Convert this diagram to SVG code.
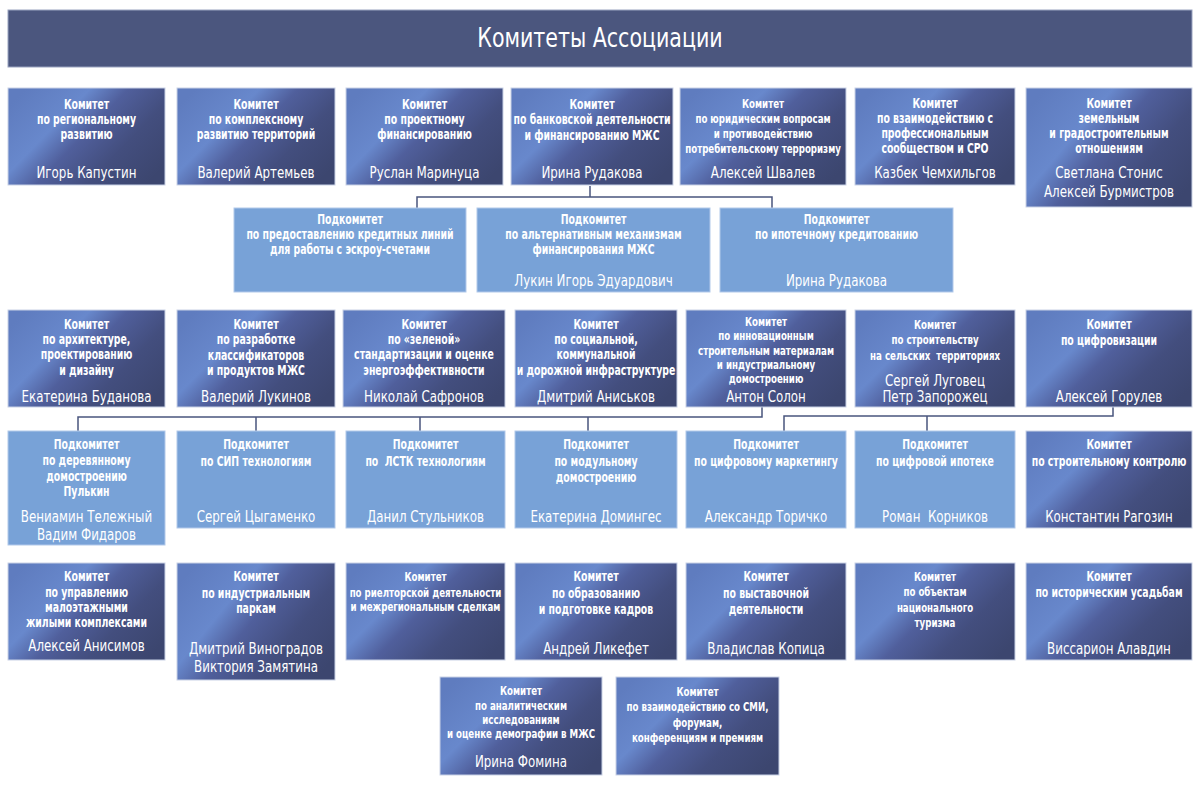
<svg xmlns="http://www.w3.org/2000/svg" width="1200" height="786" viewBox="0 0 1200 786">
<defs>
<linearGradient id="g" x1="0" y1="0.2" x2="1" y2="0.8">
<stop offset="0" stop-color="#5f7cbf"/>
<stop offset="0.3" stop-color="#6888cc"/>
<stop offset="0.48" stop-color="#505f9c"/>
<stop offset="0.72" stop-color="#434e7e"/>
<stop offset="1" stop-color="#3c466f"/>
</linearGradient>
<style>
.c{fill:url(#g);stroke:#c9d2e6;stroke-width:1}
.s{fill:#78a2d7;stroke:#b2c9ea;stroke-width:1}
text{fill:#fff;text-anchor:middle;white-space:pre;font-family:"Liberation Sans Narrow","DejaVu Sans Condensed","Liberation Sans",sans-serif;transform-box:fill-box;transform-origin:center;transform:scaleX(0.88)}
.t{font-size:13.5px;font-weight:bold;transform:scaleX(0.77)}
.m{font-size:12.5px;font-weight:bold;transform:scaleX(0.77)}
.n{font-size:15px}
.h{font-size:26px}
.ln{fill:none;stroke:#4a557e;stroke-width:1.5}
</style>
</defs>
<rect width="1200" height="786" fill="#fff"/>
<g id="header">
<rect x="8" y="10" width="1184" height="57" fill="#4b567e" stroke="#9aa3c0" stroke-width="1"/>
<text class="h" x="600" y="47">Комитеты Ассоциации</text>
</g>
<g id="connectors">
<path class="ln" d="M590 186 V197 M417 208 V197 H772 V208"/>
<path class="ln" d="M762 407 V417 H78 V431 M256 417 V431 M420 417 V431 M588 417 V431"/>
<path class="ln" d="M1113 407 V416 H784 V431 M927 416 V431"/>
</g>
<!-- Row 1 -->
<g id="k1"><rect class="c" x="8" y="88" width="157" height="97"/>
<text class="t" x="86.5" y="109">Комитет</text><text class="t" x="86.5" y="124">по региональному</text><text class="t" x="86.5" y="139">развитию</text>
<text class="n" x="86.5" y="178">Игорь Капустин</text></g>
<g id="k2"><rect class="c" x="177" y="88" width="158" height="97"/>
<text class="t" x="256" y="109">Комитет</text><text class="t" x="256" y="124">по комплексному</text><text class="t" x="256" y="139">развитию территорий</text>
<text class="n" x="256" y="178">Валерий Артемьев</text></g>
<g id="k3"><rect class="c" x="346" y="88" width="157" height="97"/>
<text class="t" x="424.5" y="109">Комитет</text><text class="t" x="424.5" y="124">по проектному</text><text class="t" x="424.5" y="139">финансированию</text>
<text class="n" x="424.5" y="178">Руслан Маринуца</text></g>
<g id="k4"><rect class="c" x="511" y="88" width="162" height="97"/>
<text class="t" x="592" y="109">Комитет</text><text class="t" x="592" y="124">по банковской деятельности</text><text class="t" x="592" y="140">и финансированию МЖС</text>
<text class="n" x="592" y="178">Ирина Рудакова</text></g>
<g id="k5"><rect class="c" x="680" y="88" width="166" height="97"/>
<text class="m" x="763" y="108">Комитет</text><text class="m" x="763" y="123">по юридическим вопросам</text><text class="m" x="763" y="138">и противодействию</text><text class="m" x="763" y="153">потребительскому терроризму</text>
<text class="n" x="763" y="178">Алексей Швалев</text></g>
<g id="k6"><rect class="c" x="855" y="88" width="160" height="97"/>
<text class="t" x="935" y="108">Комитет</text><text class="t" x="935" y="123">по взаимодействию с</text><text class="t" x="935" y="138">профессиональным</text><text class="t" x="935" y="153">сообществом и СРО</text>
<text class="n" x="935" y="178">Казбек Чемхильгов</text></g>
<g id="k7"><rect class="c" x="1026" y="88" width="166" height="119"/>
<text class="t" x="1109" y="108">Комитет</text><text class="t" x="1109" y="123">земельным</text><text class="t" x="1109" y="138">и градостроительным</text><text class="t" x="1109" y="153">отношениям</text>
<text class="n" x="1109" y="178">Светлана Стонис</text><text class="n" x="1109" y="197">Алексей Бурмистров</text></g>
<!-- Row 2 -->
<g id="p1"><rect class="s" x="234" y="208" width="232" height="84"/>
<text class="t" x="350" y="224">Подкомитет</text><text class="t" x="350" y="239">по предоставлению кредитных линий</text><text class="t" x="350" y="254">для работы с эскроу-счетами</text></g>
<g id="p2"><rect class="s" x="477" y="208" width="233" height="84"/>
<text class="t" x="593.5" y="224">Подкомитет</text><text class="t" x="593.5" y="239">по альтернативным механизмам</text><text class="t" x="593.5" y="254">финансирования МЖС</text>
<text class="n" x="593.5" y="286">Лукин Игорь Эдуардович</text></g>
<g id="p3"><rect class="s" x="720" y="208" width="233" height="84"/>
<text class="t" x="836.5" y="224">Подкомитет</text><text class="t" x="836.5" y="239">по ипотечному кредитованию</text>
<text class="n" x="836.5" y="286">Ирина Рудакова</text></g>
<!-- Row 3 -->
<g id="k8"><rect class="c" x="8" y="310" width="157" height="97"/>
<text class="t" x="86.5" y="329">Комитет</text><text class="t" x="86.5" y="344">по архитектуре,</text><text class="t" x="86.5" y="359">проектированию</text><text class="t" x="86.5" y="375">и дизайну</text>
<text class="n" x="86.5" y="402">Екатерина Буданова</text></g>
<g id="k9"><rect class="c" x="177" y="310" width="158" height="97"/>
<text class="t" x="256" y="329">Комитет</text><text class="t" x="256" y="344">по разработке</text><text class="t" x="256" y="360">классификаторов</text><text class="t" x="256" y="375">и продуктов МЖС</text>
<text class="n" x="256" y="402">Валерий Лукинов</text></g>
<g id="k10"><rect class="c" x="343" y="310" width="162" height="97"/>
<text class="t" x="424" y="329">Комитет</text><text class="t" x="424" y="344">по «зеленой»</text><text class="t" x="424" y="359">стандартизации и оценке</text><text class="t" x="424" y="375">энергоэффективности</text>
<text class="n" x="424" y="402">Николай Сафронов</text></g>
<g id="k11"><rect class="c" x="515" y="310" width="162" height="97"/>
<text class="t" x="596" y="329">Комитет</text><text class="t" x="596" y="344">по социальной,</text><text class="t" x="596" y="359">коммунальной</text><text class="t" x="596" y="375">и дорожной инфраструктуре</text>
<text class="n" x="596" y="402">Дмитрий Аниськов</text></g>
<g id="k12"><rect class="c" x="686" y="310" width="160" height="97"/>
<text class="m" x="766" y="326">Комитет</text><text class="m" x="766" y="340">по инновационным</text><text class="m" x="766" y="355">строительным материалам</text><text class="m" x="766" y="369">и индустриальному</text><text class="m" x="766" y="383">домостроению</text>
<text class="n" x="766" y="402">Антон Солон</text></g>
<g id="k13"><rect class="c" x="855" y="310" width="160" height="97"/>
<text class="m" x="935" y="329">Комитет</text><text class="m" x="935" y="344">по строительству</text><text class="m" x="935" y="360">на сельских  территориях</text>
<text class="n" x="935" y="386">Сергей Луговец</text><text class="n" x="935" y="402">Петр Запорожец</text></g>
<g id="k14"><rect class="c" x="1026" y="310" width="166" height="97"/>
<text class="t" x="1109" y="329">Комитет</text><text class="t" x="1109" y="345">по цифровизации</text>
<text class="n" x="1109" y="402">Алексей Горулев</text></g>
<!-- Row 4 -->
<g id="p4"><rect class="s" x="8" y="431" width="157" height="114"/>
<text class="t" x="86.5" y="449">Подкомитет</text><text class="t" x="86.5" y="465">по деревянному</text><text class="t" x="86.5" y="481">домостроению</text><text class="t" x="86.5" y="496">Пулькин</text>
<text class="n" x="86.5" y="522">Вениамин Тележный</text><text class="n" x="86.5" y="540">Вадим Фидаров</text></g>
<g id="p5"><rect class="s" x="177" y="431" width="158" height="97"/>
<text class="t" x="256" y="449">Подкомитет</text><text class="t" x="256" y="466">по СИП технологиям</text>
<text class="n" x="256" y="522">Сергей Цыгаменко</text></g>
<g id="p6"><rect class="s" x="346" y="431" width="159" height="97"/>
<text class="t" x="425.5" y="449">Подкомитет</text><text class="t" x="425.5" y="466">по  ЛСТК технологиям</text>
<text class="n" x="425.5" y="522">Данил Стульников</text></g>
<g id="p7"><rect class="s" x="515" y="431" width="162" height="97"/>
<text class="t" x="596" y="449">Подкомитет</text><text class="t" x="596" y="466">по модульному</text><text class="t" x="596" y="482">домостроению</text>
<text class="n" x="596" y="522">Екатерина Домингес</text></g>
<g id="p8"><rect class="s" x="686" y="431" width="160" height="97"/>
<text class="t" x="766" y="449">Подкомитет</text><text class="t" x="766" y="466">по цифровому маркетингу</text>
<text class="n" x="766" y="522">Александр Торичко</text></g>
<g id="p9"><rect class="s" x="855" y="431" width="160" height="97"/>
<text class="t" x="935" y="449">Подкомитет</text><text class="t" x="935" y="466">по цифровой ипотеке</text>
<text class="n" x="935" y="522">Роман  Корников</text></g>
<g id="k15"><rect class="c" x="1026" y="431" width="166" height="97"/>
<text class="t" x="1109" y="449">Комитет</text><text class="t" x="1109" y="466">по строительному контролю</text>
<text class="n" x="1109" y="522">Константин Рагозин</text></g>
<!-- Row 5 -->
<g id="k16"><rect class="c" x="8" y="563" width="157" height="97"/>
<text class="t" x="86.5" y="581">Комитет</text><text class="t" x="86.5" y="597">по управлению</text><text class="t" x="86.5" y="612">малоэтажными</text><text class="t" x="86.5" y="627">жилыми комплексами</text>
<text class="n" x="86.5" y="651">Алексей Анисимов</text></g>
<g id="k17"><rect class="c" x="177" y="563" width="158" height="117"/>
<text class="t" x="256" y="581">Комитет</text><text class="t" x="256" y="598">по индустриальным</text><text class="t" x="256" y="613">паркам</text>
<text class="n" x="256" y="654">Дмитрий Виноградов</text><text class="n" x="256" y="672">Виктория Замятина</text></g>
<g id="k18"><rect class="c" x="346" y="563" width="159" height="97"/>
<text class="m" x="425.5" y="581">Комитет</text><text class="m" x="425.5" y="597">по риелторской деятельности</text><text class="m" x="425.5" y="611">и межрегиональным сделкам</text></g>
<g id="k19"><rect class="c" x="515" y="563" width="162" height="97"/>
<text class="t" x="596" y="581">Комитет</text><text class="t" x="596" y="598">по образованию</text><text class="t" x="596" y="614">и подготовке кадров</text>
<text class="n" x="596" y="654">Андрей Ликефет</text></g>
<g id="k20"><rect class="c" x="686" y="563" width="160" height="97"/>
<text class="t" x="766" y="581">Комитет</text><text class="t" x="766" y="598">по выставочной</text><text class="t" x="766" y="614">деятельности</text>
<text class="n" x="766" y="654">Владислав Копица</text></g>
<g id="k21"><rect class="c" x="855" y="563" width="160" height="97"/>
<text class="m" x="935" y="581">Комитет</text><text class="m" x="935" y="596">по объектам</text><text class="m" x="935" y="612">национального</text><text class="m" x="935" y="627">туризма</text></g>
<g id="k22"><rect class="c" x="1026" y="563" width="166" height="97"/>
<text class="t" x="1109" y="581">Комитет</text><text class="t" x="1109" y="597">по историческим усадьбам</text>
<text class="n" x="1109" y="654">Виссарион Алавдин</text></g>
<!-- Row 6 -->
<g id="k23"><rect class="c" x="440" y="677" width="162" height="98"/>
<text class="m" x="521" y="695">Комитет</text><text class="m" x="521" y="710">по аналитическим</text><text class="m" x="521" y="724">исследованиям</text><text class="m" x="521" y="738">и оценке демографии в МЖС</text>
<text class="n" x="521" y="767">Ирина Фомина</text></g>
<g id="k24"><rect class="c" x="616" y="677" width="163" height="98"/>
<text class="m" x="697.5" y="696">Комитет</text><text class="m" x="697.5" y="711">по взаимодействию со СМИ,</text><text class="m" x="697.5" y="727">форумам,</text><text class="m" x="697.5" y="742">конференциям и премиям</text></g>
</svg>
